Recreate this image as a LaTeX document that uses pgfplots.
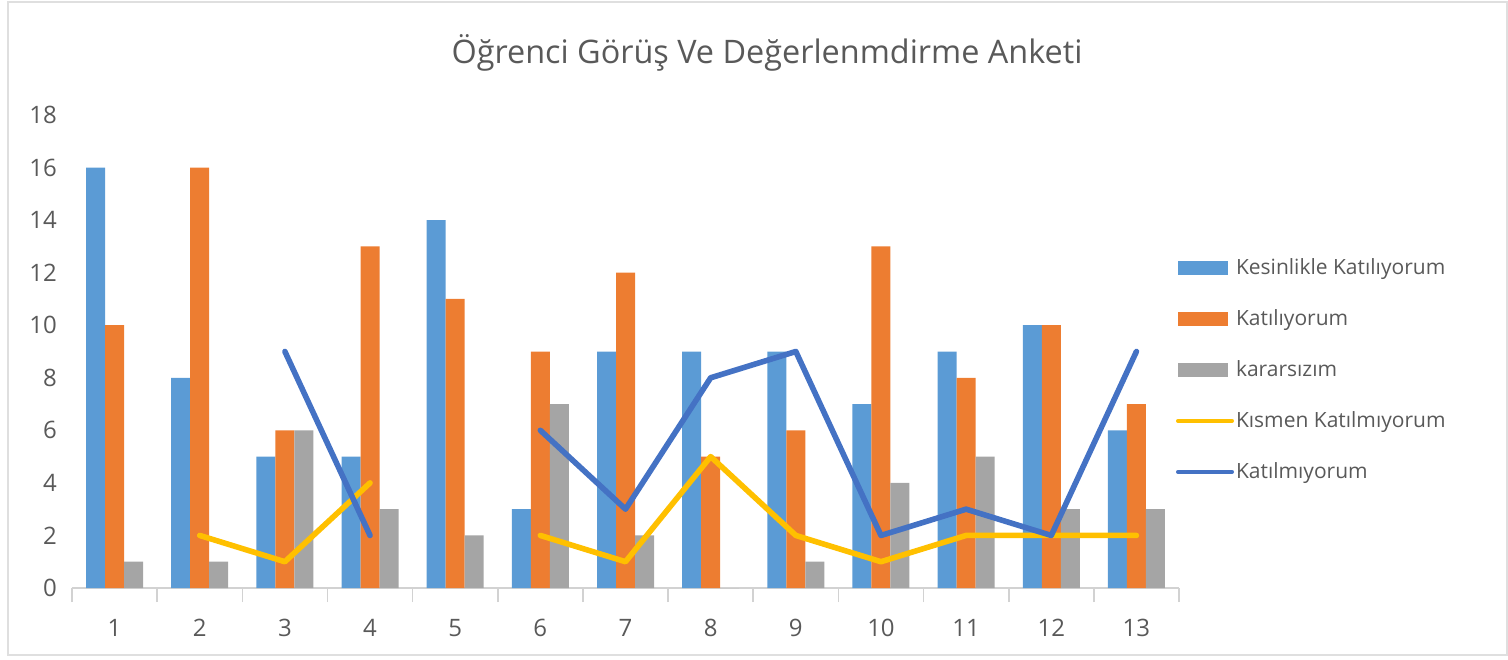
\documentclass[border=0pt]{standalone}
\usepackage{fontspec}
\setmainfont{Open Sans}
\usepackage{pgfplots}
\pgfplotsset{compat=1.18}

\definecolor{cBlue}{HTML}{5B9BD5}
\definecolor{cOrange}{HTML}{ED7D31}
\definecolor{cGray}{HTML}{A5A5A5}
\definecolor{cYellow}{HTML}{FFC000}
\definecolor{cDark}{HTML}{4472C4}
\definecolor{txt}{HTML}{595959}

% bar series: category, value
\pgfplotstableread{
x kesin katil karar
1 16 10 1
2 8 16 1
3 5 6 6
4 5 13 3
5 14 11 2
6 3 9 7
7 9 12 2
8 9 5 0
9 9 6 1
10 7 13 4
11 9 8 5
12 10 10 3
13 6 7 3
}\bars

\begin{document}
\begin{tikzpicture}
\useasboundingbox (-36pt,-35.5pt) rectangle (718pt,294pt);
\draw[gray!25, line width=1.2pt] (-32pt,-33.5pt) rectangle (717.5pt,293pt);
\begin{axis}[
  at={(0pt,0pt)}, anchor=origin,
  scale only axis,
  width=553.5pt, height=236.5pt,
  xmin=0.5, xmax=13.5, ymin=0, ymax=18,
  axis x line*=bottom, axis y line*=left,
  y axis line style={draw=none},
  x axis line style={gray!35, line width=0.8pt},
  xtick={1,...,13},
  minor xtick={0.5,1.5,...,13.5},
  ytick={0,2,...,18},
  major tick length=0pt,
  minor tick length=7pt,
  tick align=outside,
  minor x tick style={gray!35, line width=0.8pt},
  /pgf/number format/assume math mode=true,
  ticklabel style={font=\fontsize{12}{14}\selectfont, text=txt},
  xticklabel style={yshift=-12pt},
  yticklabel style={xshift=-4pt},
  title={Öğrenci Görüş Ve Değerlenmdirme Anketi},
  title style={font=\fontsize{16.2}{19}\selectfont, text=txt, at={(347.5pt,261.5pt)}, anchor=center},
  unbounded coords=jump,
  legend style={at={(1,0.461)}, anchor=west, xshift=-1.5pt,
    draw=none, fill=none,
    font=\fontsize{10.5}{12.5}\selectfont, text=txt, row sep=14pt,
    inner sep=0pt, outer sep=0pt,
    nodes={inner sep=1pt}},
  legend cell align=left,
  clip=false,
]
\addplot[ybar, bar width=9.5pt, bar shift=-9.5pt, fill=cBlue, draw=none,
  legend image code/.code={\fill[cBlue] (0pt,-3.5pt) rectangle (25pt,3.5pt);}]
  table[x=x, y=kesin]{\bars};
\addlegendentry{Kesinlikle Katılıyorum}
\addplot[ybar, bar width=9.5pt, bar shift=0pt, fill=cOrange, draw=none,
  legend image code/.code={\fill[cOrange] (0pt,-3.5pt) rectangle (25pt,3.5pt);}]
  table[x=x, y=katil]{\bars};
\addlegendentry{Katılıyorum}
\addplot[ybar, bar width=9.5pt, bar shift=9.5pt, fill=cGray, draw=none,
  legend image code/.code={\fill[cGray] (0pt,-3.5pt) rectangle (25pt,3.5pt);}]
  table[x=x, y=karar]{\bars};
\addlegendentry{kararsızım}
\addplot[cYellow, line width=2.8pt, line join=round, line cap=round, no marks,
  legend image code/.code={\draw[cYellow, line width=2pt, line cap=round] (0pt,0pt) -- (27pt,0pt);}]
  coordinates {(1,nan) (2,2) (3,1) (4,4) (5,nan) (6,2) (7,1) (8,5) (9,2) (10,1) (11,2) (12,2) (13,2)};
\addlegendentry{Kısmen Katılmıyorum}
\addplot[cDark, line width=2.8pt, line join=round, line cap=round, no marks,
  legend image code/.code={\draw[cDark, line width=2pt, line cap=round] (0pt,0pt) -- (27pt,0pt);}]
  coordinates {(1,nan) (2,nan) (3,9) (4,2) (5,nan) (6,6) (7,3) (8,8) (9,9) (10,2) (11,3) (12,2) (13,9)};
\addlegendentry{Katılmıyorum}
\end{axis}
\end{tikzpicture}
\end{document}
